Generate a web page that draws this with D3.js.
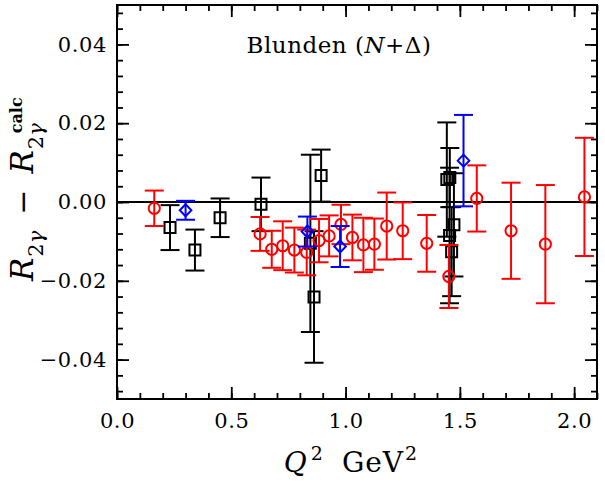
<!DOCTYPE html>
<html>
<head>
<meta charset="utf-8">
<script src="https://cdn.jsdelivr.net/npm/d3@7"></script>
<style>
  body { margin: 0; background: #fff; }
  text { font-family: "DejaVu Serif", serif; fill: #000; }
</style>
</head>
<body>
<div id="container"></div>
<script>
/* DATA */
// red circles
const circQ2  = [0.163, 0.626, 0.677, 0.725, 0.776, 0.830, 0.884, 0.928, 0.980, 1.030,
                 1.078, 1.126, 1.180, 1.250, 1.355, 1.452, 1.574, 1.724, 1.874, 2.045];
const circVal = [-0.0016, -0.0081, -0.0120, -0.0111, -0.0122, -0.0128, -0.0098, -0.0086, -0.0057, -0.0090,
                 -0.0109, -0.0107, -0.0061, -0.0073, -0.0105, -0.0189, 0.0009, -0.0073, -0.0107, 0.0013];
const circErr = [0.0045, 0.0043, 0.0047, 0.0062, 0.0057, 0.0058, 0.0055, 0.0052, 0.0050, 0.0058,
                 0.0069, 0.0065, 0.0085, 0.0072, 0.0072, 0.0080, 0.0084, 0.0122, 0.0150, 0.0150];

// black squares
const sqQ2  = [0.232, 0.341, 0.451, 0.630, 0.846, 0.862, 0.893, 1.443, 1.456, 1.474, 1.455, 1.464];
const sqVal = [-0.0065, -0.0122, -0.0040, -0.0006, -0.0105, -0.0241, 0.0067, 0.0057, 0.0062, -0.0058, -0.0085, -0.0126];
const sqErr = [0.0057, 0.0052, 0.0049, 0.0068, 0.0225, 0.0167, 0.0066, 0.0145, 0.0075, 0.0131, 0.0172, 0.0113];

// blue diamonds
const diaQ2  = [0.300, 0.833, 0.976, 1.516];
const diaVal = [-0.0021, -0.0075, -0.0113, 0.0105];
const diaErr = [0.0024, 0.0038, 0.0052, 0.0116];

const xMajor = [0.0, 0.5, 1.0, 1.5, 2.0];
const yMajor = [-0.04, -0.02, 0.00, 0.02, 0.04];

/* LAYOUT */
const W = 605, H = 488;
const plotL = 117, plotR = 597, plotT = 5, plotB = 399;

const svg = d3.select("#container").append("svg")
  .attr("width", W).attr("height", H);

const x = d3.scaleLinear().domain([0, 2.1]).range([plotL, plotR]);
const y = d3.scaleLinear().domain([-0.05, 0.05]).range([plotB, plotT]);

const xMinor = d3.range(0, 2.1001, 0.1);
const yMinor = d3.range(-0.048, 0.0481, 0.004);

// axes with inward ticks on all four sides
function styleAxis(g) {
  g.select(".domain").remove();
  g.selectAll(".tick line").attr("stroke", "#000").attr("stroke-width", 1.8);
  g.selectAll(".tick text")
    .style("font-size", "21px")
    .style("letter-spacing", "0.6px")
    .attr("fill", "#000");
}

svg.append("g").attr("transform", `translate(0,${plotB})`)
  .call(d3.axisBottom(x).tickValues(xMinor).tickSize(-6).tickFormat("")).call(styleAxis);
svg.append("g").attr("transform", `translate(0,${plotB})`)
  .call(d3.axisBottom(x).tickValues(xMajor).tickSize(-12).tickPadding(14).tickFormat(d3.format(".1f"))).call(styleAxis);
svg.append("g").attr("transform", `translate(0,${plotT})`)
  .call(d3.axisTop(x).tickValues(xMinor).tickSize(-6).tickFormat("")).call(styleAxis);
svg.append("g").attr("transform", `translate(0,${plotT})`)
  .call(d3.axisTop(x).tickValues(xMajor).tickSize(-12).tickFormat("")).call(styleAxis);

svg.append("g").attr("transform", `translate(${plotL},0)`)
  .call(d3.axisLeft(y).tickValues(yMinor).tickSize(-6).tickFormat("")).call(styleAxis);
svg.append("g").attr("transform", `translate(${plotL},0)`)
  .call(d3.axisLeft(y).tickValues(yMajor).tickSize(-12).tickPadding(10).tickFormat(d3.format(".2f"))).call(styleAxis);
svg.append("g").attr("transform", `translate(${plotR},0)`)
  .call(d3.axisRight(y).tickValues(yMinor).tickSize(-6).tickFormat("")).call(styleAxis);
svg.append("g").attr("transform", `translate(${plotR},0)`)
  .call(d3.axisRight(y).tickValues(yMajor).tickSize(-12).tickFormat("")).call(styleAxis);

// frame
svg.append("rect")
  .attr("x", plotL).attr("y", plotT)
  .attr("width", plotR - plotL).attr("height", plotB - plotT)
  .attr("fill", "none").attr("stroke", "#000").attr("stroke-width", 2);

// zero line
svg.append("line")
  .attr("x1", x(0)).attr("x2", x(2.1))
  .attr("y1", y(0)).attr("y2", y(0))
  .attr("stroke", "#000").attr("stroke-width", 1.8);

/* ERROR BARS + MARKERS */
const cap = 9.5;
function series(q2, val, err, color, shape) {
  const pts = q2.map((q, i) => ({ q, v: val[i], e: err[i] }));
  const g = svg.append("g")
    .attr("stroke", color).attr("stroke-width", 2).attr("fill", "none");

  g.selectAll(".bar").data(pts).join("line")
    .attr("x1", d => x(d.q)).attr("x2", d => x(d.q))
    .attr("y1", d => y(d.v - d.e)).attr("y2", d => y(d.v + d.e));
  g.selectAll(".capTop").data(pts).join("line")
    .attr("x1", d => x(d.q) - cap).attr("x2", d => x(d.q) + cap)
    .attr("y1", d => y(d.v + d.e)).attr("y2", d => y(d.v + d.e));
  g.selectAll(".capBot").data(pts).join("line")
    .attr("x1", d => x(d.q) - cap).attr("x2", d => x(d.q) + cap)
    .attr("y1", d => y(d.v - d.e)).attr("y2", d => y(d.v - d.e));

  g.selectAll(".mark").data(pts).join("path")
    .attr("transform", d => `translate(${x(d.q)},${y(d.v)})`)
    .attr("d", shape);
}

series(sqQ2, sqVal, sqErr, "#000", "M-5.5,-5.5H5.5V5.5H-5.5Z");
series(circQ2, circVal, circErr, "#ff0000", "M-5.6,0A5.6,5.6 0 1,0 5.6,0A5.6,5.6 0 1,0 -5.6,0Z");
series(diaQ2, diaVal, diaErr, "#0000ff", "M0,-6L5.8,0L0,6L-5.8,0Z");

/* LABELS */
// title
const title = svg.append("text")
  .attr("x", 339).attr("y", 53)
  .attr("text-anchor", "middle")
  .style("font-size", "23px")
  .style("letter-spacing", "0.5px");
title.append("tspan").text("Blunden (");
title.append("tspan").style("font-style", "italic").text("N");
title.append("tspan").text("+\u0394)");

// x axis title
const xt = svg.append("text")
  .attr("x", 351).attr("y", 472)
  .attr("text-anchor", "middle")
  .style("font-size", "28px")
  .style("letter-spacing", "1px");
xt.append("tspan").style("font-style", "italic").text("Q");
xt.append("tspan").attr("dy", -12).attr("dx", 3).style("font-size", "19px").text("2");
xt.append("tspan").attr("dy", 12).attr("dx", 18).text("GeV");
xt.append("tspan").attr("dy", -12).attr("dx", 1).style("font-size", "19px").text("2");

// y axis title, built piece by piece along the rotated baseline
const yt = svg.append("g").attr("transform", "translate(33,281) rotate(-90)");
let pos = 0;
function piece(str, size, dy, italic, gap, bold) {
  const t = yt.append("text")
    .attr("x", pos).attr("y", dy)
    .style("font-size", size + "px")
    .style("font-style", italic ? "italic" : "normal")
    .style("font-weight", bold ? "bold" : "normal")
    .text(str);
  const w = t.node().getComputedTextLength();
  pos += w + (gap || 0);
  return w;
}
piece("R", 31, 0, true, 1);
piece("2", 21, 10, false, 0);
piece("\u03b3", 21, 10, true, 16);
piece("\u2212", 30, 0, false, 16);
piece("R", 31, 0, true, 1);
const subStart = pos;
piece("2", 21, 10, false, 0);
piece("\u03b3", 21, 10, true, 0);
pos = subStart + 16;
piece("calc", 16, -11, false, 0, true);
</script>
</body>
</html>
